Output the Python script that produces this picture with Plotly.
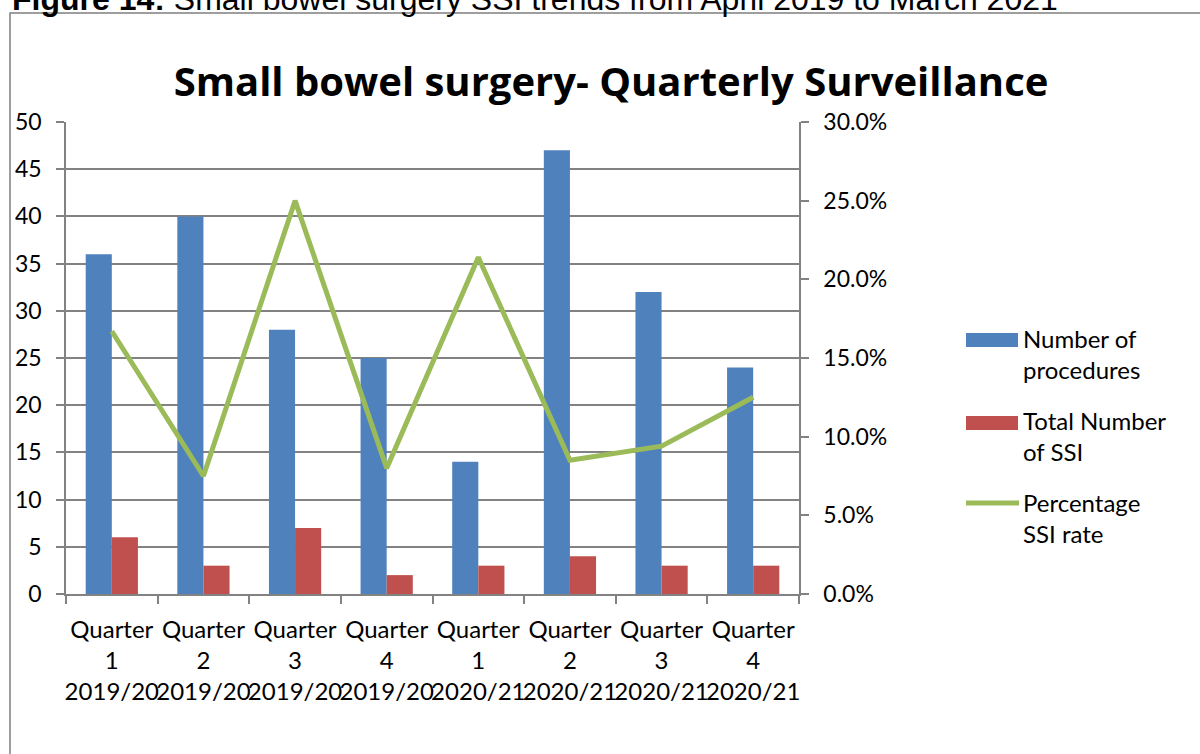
import plotly.graph_objects as go

# Quarterly surveillance data
quarters = ["Quarter<br>1<br>2019/20", "Quarter<br>2<br>2019/20", "Quarter<br>3<br>2019/20",
            "Quarter<br>4<br>2019/20", "Quarter<br>1<br>2020/21", "Quarter<br>2<br>2020/21",
            "Quarter<br>3<br>2020/21", "Quarter<br>4<br>2020/21"]
procedures = [36, 40, 28, 25, 14, 47, 32, 24]
ssi_total = [6, 3, 7, 2, 3, 4, 3, 3]
ssi_rate_pct = [16.7, 7.5, 25.0, 8.0, 21.4, 8.5, 9.4, 12.5]

legend_names = ["Number of<br>procedures", "Total Number<br>of SSI", "Percentage<br>SSI rate"]

BLUE = "#4F81BD"
RED = "#C0504D"
GREEN = "#9BBB59"
GRID = "#828282"
FONT = "Lato"

W, H = 1200, 754
L, R, T, B = 66, 401, 122, 160
PW, PH = W - L - R, H - T - B


def px_x(px):
    return (px - L) / PW


def px_y(py):
    return (H - B - py) / PH


fig = go.Figure()
fig.add_trace(go.Bar(x=quarters, y=procedures, name="Number of procedures",
                     marker=dict(color=BLUE, line=dict(width=0)), yaxis="y"))
fig.add_trace(go.Bar(x=quarters, y=ssi_total, name="Total Number of SSI",
                     marker=dict(color=RED, line=dict(width=0)), yaxis="y"))
fig.add_trace(go.Scatter(x=quarters, y=[v / 100 for v in ssi_rate_pct], name="Percentage SSI rate",
                         mode="lines", line=dict(color=GREEN, width=5), yaxis="y2"))

shapes = [
    # outer frame around the chart
    dict(type="rect", xref="paper", yref="paper",
         x0=px_x(10), x1=px_x(1215), y0=px_y(13), y1=px_y(770),
         line=dict(color="#7f7f7f", width=1.5), fillcolor="rgba(0,0,0,0)", layer="below"),
    # legend keys
    dict(type="rect", xref="paper", yref="paper",
         x0=px_x(966), x1=px_x(1018), y0=px_y(333), y1=px_y(347),
         line=dict(width=0), fillcolor=BLUE),
    dict(type="rect", xref="paper", yref="paper",
         x0=px_x(966), x1=px_x(1018), y0=px_y(416), y1=px_y(430),
         line=dict(width=0), fillcolor=RED),
    dict(type="line", xref="paper", yref="paper",
         x0=px_x(966), x1=px_x(1019), y0=px_y(503), y1=px_y(503),
         line=dict(color=GREEN, width=5)),
]

annotations = [
    dict(text="<b>Figure 14:</b> Small bowel surgery SSI trends from April 2019 to March 2021",
         xref="paper", yref="paper", x=px_x(10), y=px_y(-1), xanchor="left", yanchor="middle",
         showarrow=False, font=dict(family="Liberation Sans", size=32, color="#000000")),
]
for name, cy in zip(legend_names, [354, 436, 518]):
    annotations.append(dict(text=name, xref="paper", yref="paper", x=px_x(1021), y=px_y(cy),
                            xanchor="left", yanchor="middle", align="left", showarrow=False,
                            font=dict(family=FONT, size=24, color="#000000")))

fig.update_layout(
    width=W, height=H,
    margin=dict(l=L, r=R, t=T, b=B),
    paper_bgcolor="white", plot_bgcolor="white",
    barmode="group", bargap=0.43, bargroupgap=0,
    showlegend=False,
    font=dict(family=FONT, size=23, color="#000000"),
    title=dict(text="<b>Small bowel surgery- Quarterly Surveillance</b>",
               font=dict(family="Open Sans", size=40, color="#000000"),
               xref="paper", x=px_x(611), xanchor="center",
               yref="container", y=1 - 82 / H, yanchor="middle"),
    xaxis=dict(type="category", showline=True, linecolor=GRID, linewidth=1.5,
               ticks="outside", tickson="boundaries", ticklen=8, tickcolor=GRID, tickwidth=1.5,
               showgrid=False, tickangle=0, tickfont=dict(family=FONT, size=24),
               ticklabelstandoff=13),
    yaxis=dict(range=[0, 50], dtick=5, showline=True, linecolor=GRID, linewidth=1.5,
               ticks="outside", ticklen=8, tickcolor=GRID, tickwidth=1.5,
               showgrid=True, gridcolor=GRID, gridwidth=1.6, zeroline=False,
               tickfont=dict(family=FONT, size=23), ticklabelstandoff=10),
    yaxis2=dict(range=[0, 0.30], dtick=0.05, tickformat=".1%", overlaying="y", side="right",
                showline=True, linecolor=GRID, linewidth=1.5,
                ticks="outside", ticklen=8, tickcolor=GRID, tickwidth=1.5,
                showgrid=False, zeroline=False,
                tickfont=dict(family=FONT, size=23), ticklabelstandoff=10),
    shapes=shapes,
    annotations=annotations,
)

fig.write_html("out.html")
